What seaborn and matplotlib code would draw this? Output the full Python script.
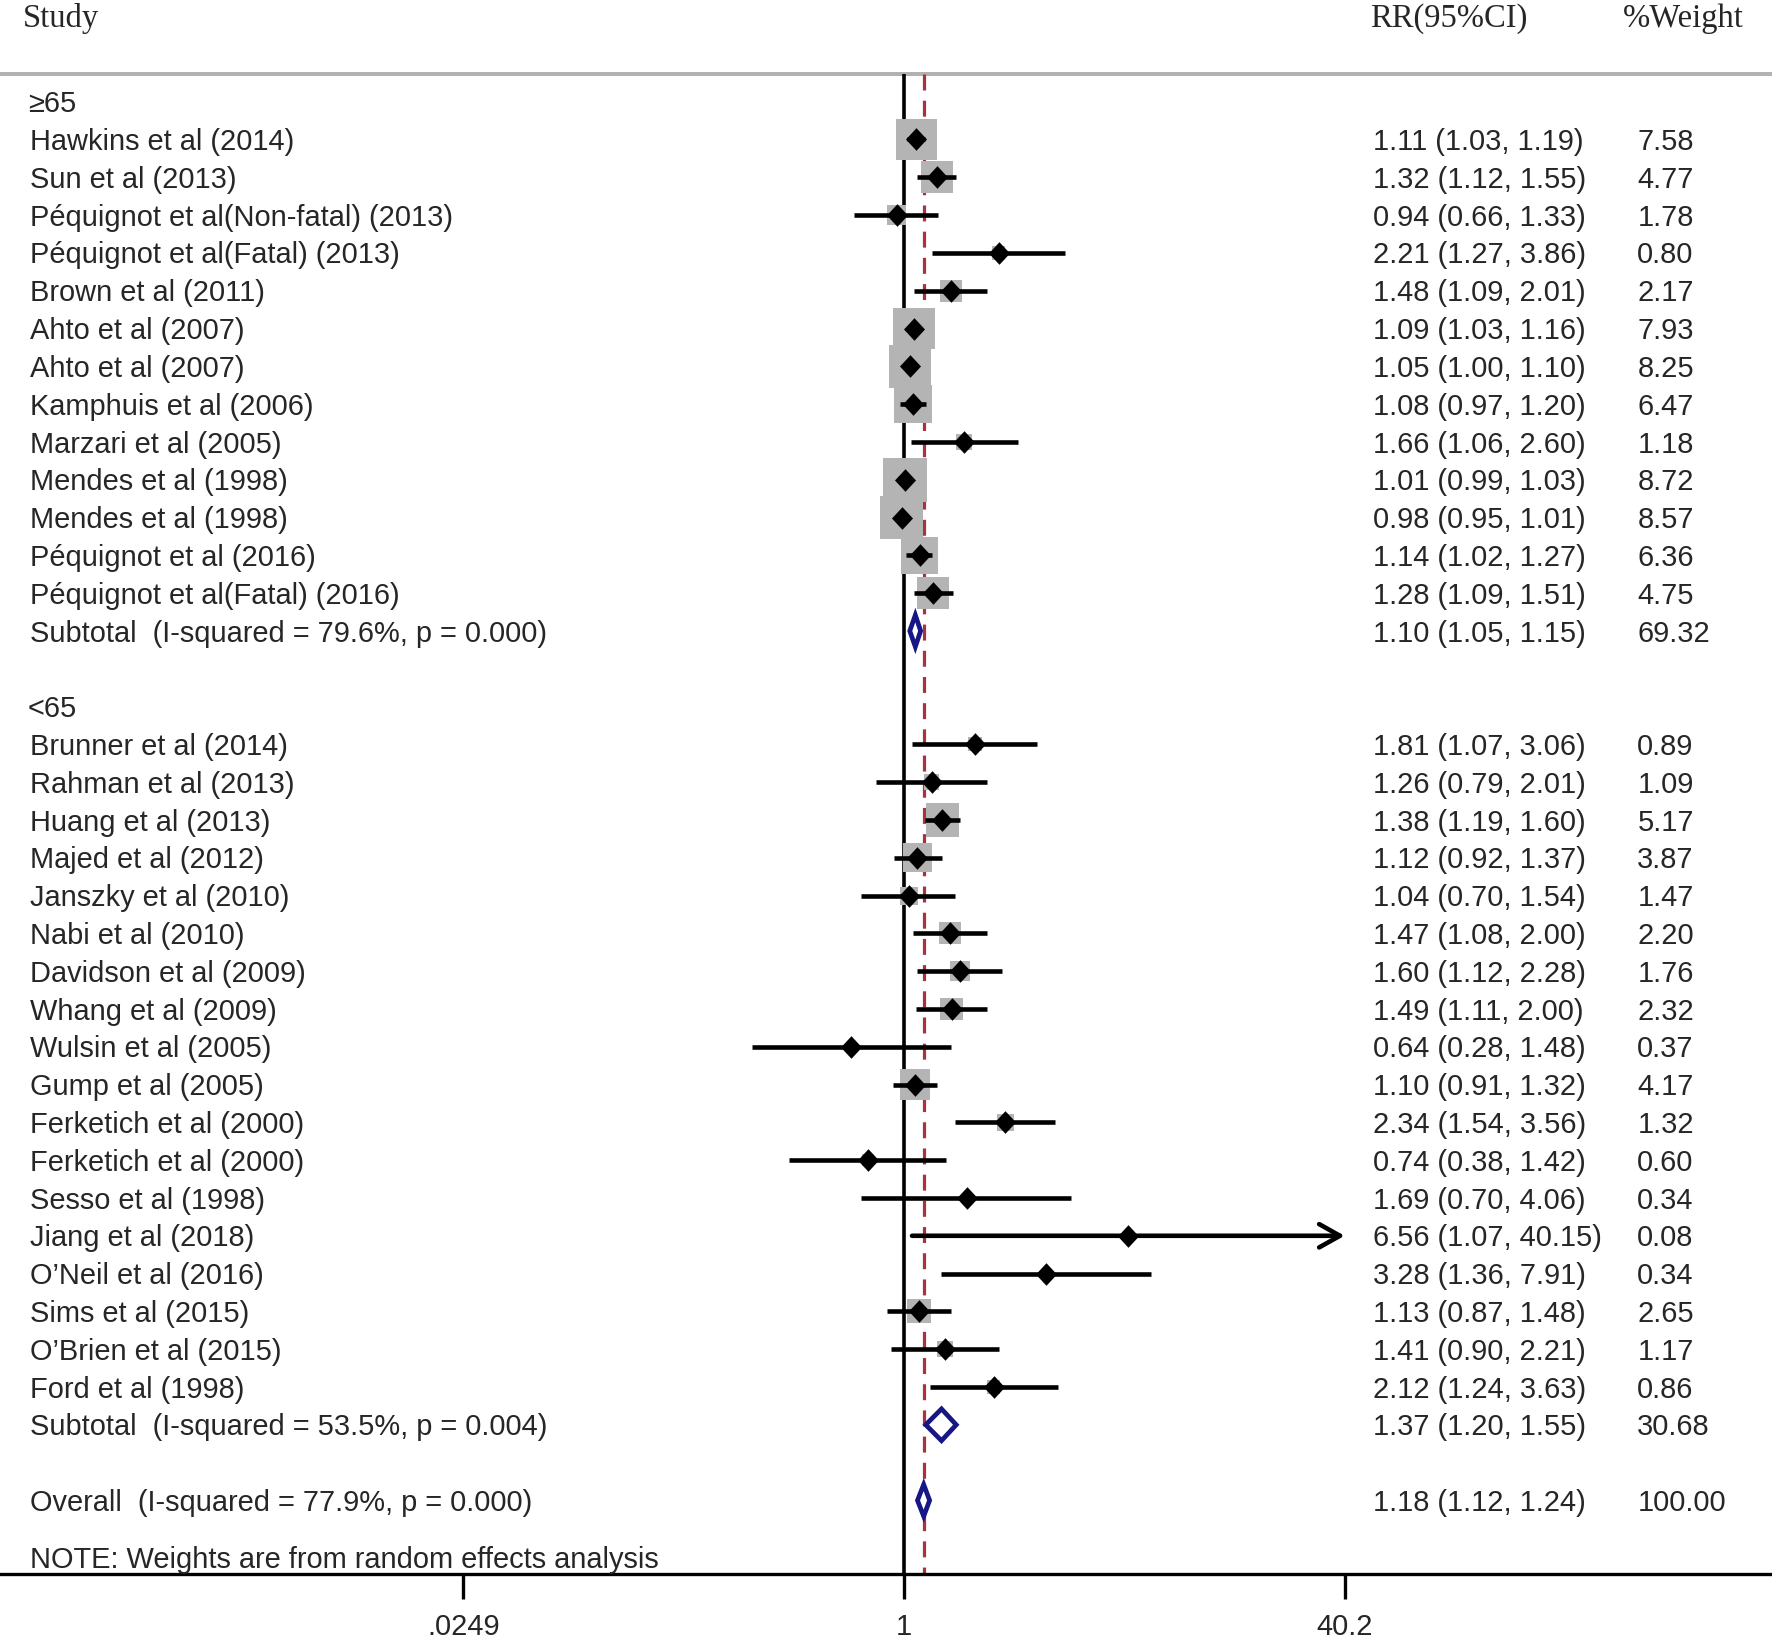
import numpy as np
import pandas as pd
import matplotlib
matplotlib.use("Agg")
import matplotlib.pyplot as plt
from matplotlib.ticker import NullLocator
import seaborn as sns

# ---- data ----
old_label = "≥65"
old_study = ["Hawkins et al (2014)", "Sun et al (2013)",
             "Péquignot et al(Non-fatal) (2013)", "Péquignot et al(Fatal) (2013)",
             "Brown et al (2011)", "Ahto et al (2007)", "Ahto et al (2007)",
             "Kamphuis et al (2006)", "Marzari et al (2005)", "Mendes et al (1998)",
             "Mendes et al (1998)", "Péquignot et al (2016)",
             "Péquignot et al(Fatal) (2016)"]
old_rr = [1.11, 1.32, 0.94, 2.21, 1.48, 1.09, 1.05, 1.08, 1.66, 1.01, 0.98, 1.14, 1.28]
old_lo = [1.03, 1.12, 0.66, 1.27, 1.09, 1.03, 1.00, 0.97, 1.06, 0.99, 0.95, 1.02, 1.09]
old_hi = [1.19, 1.55, 1.33, 3.86, 2.01, 1.16, 1.10, 1.20, 2.60, 1.03, 1.01, 1.27, 1.51]
old_wt = [7.58, 4.77, 1.78, 0.80, 2.17, 7.93, 8.25, 6.47, 1.18, 8.72, 8.57, 6.36, 4.75]
old_sub = [1.10, 1.05, 1.15, 69.32]
old_het = "Subtotal  (I-squared = 79.6%, p = 0.000)"

young_label = "<65"
young_study = ["Brunner et al (2014)", "Rahman et al (2013)", "Huang et al (2013)",
               "Majed et al (2012)", "Janszky et al (2010)", "Nabi et al (2010)",
               "Davidson et al (2009)", "Whang et al (2009)", "Wulsin et al (2005)",
               "Gump et al (2005)", "Ferketich et al (2000)", "Ferketich et al (2000)",
               "Sesso et al (1998)", "Jiang et al (2018)", "O\u2019Neil et al (2016)",
               "Sims et al (2015)", "O\u2019Brien et al (2015)", "Ford et al (1998)"]
young_rr = [1.81, 1.26, 1.38, 1.12, 1.04, 1.47, 1.60, 1.49, 0.64, 1.10, 2.34, 0.74,
            1.69, 6.56, 3.28, 1.13, 1.41, 2.12]
young_lo = [1.07, 0.79, 1.19, 0.92, 0.70, 1.08, 1.12, 1.11, 0.28, 0.91, 1.54, 0.38,
            0.70, 1.07, 1.36, 0.87, 0.90, 1.24]
young_hi = [3.06, 2.01, 1.60, 1.37, 1.54, 2.00, 2.28, 2.00, 1.48, 1.32, 3.56, 1.42,
            4.06, 40.15, 7.91, 1.48, 2.21, 3.63]
young_wt = [0.89, 1.09, 5.17, 3.87, 1.47, 2.20, 1.76, 2.32, 0.37, 4.17, 1.32, 0.60,
            0.34, 0.08, 0.34, 2.65, 1.17, 0.86]
young_sub = [1.37, 1.20, 1.55, 30.68]
young_het = "Subtotal  (I-squared = 53.5%, p = 0.004)"

overall = [1.18, 1.12, 1.24, 100.00]
overall_het = "Overall  (I-squared = 77.9%, p = 0.000)"
note = "NOTE: Weights are from random effects analysis"

tick_vals = [0.0249, 1, 40.2]
tick_text = [".0249", "1", "40.2"]

# ---- row layout (one row per line of the plot) ----
rows = []
r = 0
groups = [(old_label, old_study, old_rr, old_lo, old_hi, old_wt, old_sub, old_het),
          (young_label, young_study, young_rr, young_lo, young_hi, young_wt, young_sub, young_het)]
summaries = []
headers = []
for label, st, rr, lo, hi, wt, sub, het in groups:
    headers.append((label, r))
    r += 1
    for i in range(len(st)):
        rows.append(dict(study=st[i], rr=rr[i], lo=lo[i], hi=hi[i], wt=wt[i], row=r))
        r += 1
    summaries.append((het, sub, r))
    r += 2
summaries.append((overall_het, overall, r))
df = pd.DataFrame(rows)

sns.set_theme(style="white")
plt.rcParams["font.family"] = ["Liberation Sans", "DejaVu Sans"]
fs = 20.9

fig = plt.figure(figsize=(17.72, 16.38), dpi=100)
ax = fig.add_axes([0, 0, 1, 1])
ax.set_xscale("log")
ax.set_xlim(np.exp(-7.577), np.exp(7.276))
y_bottom = r + 1.95
ax.set_ylim(40.64, -2.69)

top_line = -0.72
xmax_tick = tick_vals[-1]

# reference lines
ax.axhline(top_line, color="#b2b2b2", lw=2.9, zorder=1)
ax.vlines(1, top_line, y_bottom, color="black", lw=2.6, zorder=1)
ax.vlines(overall[0], top_line, y_bottom, color="#a8323f", lw=2.3,
          linestyles=(0, (5, 3.2)), zorder=1)

# weight boxes
wmin, wmax = df["wt"].min(), df["wt"].max()
sns.scatterplot(data=df, x="rr", y="row", size="wt", sizes=(113 * wmin, 113 * wmax),
                size_norm=(wmin, wmax), marker="s", color="#b4b4b4", linewidth=0,
                legend=False, ax=ax, zorder=2)

# confidence intervals
clip = df["hi"] >= xmax_tick * 0.99
ax.hlines(df.loc[~clip, "row"], df.loc[~clip, "lo"], df.loc[~clip, "hi"],
          color="black", lw=3.3, zorder=3)
for _, d in df[clip].iterrows():
    ax.annotate("", xy=(xmax_tick, d["row"]), xytext=(d["lo"], d["row"]),
                arrowprops=dict(arrowstyle="->,head_length=0.75,head_width=0.42",
                                mutation_scale=20, lw=3.3, color="black",
                                shrinkA=0, shrinkB=0), zorder=3)

# point estimates
diamond = [(0, 1), (0.93, 0), (0, -1), (-0.93, 0), (0, 1)]
sns.scatterplot(data=df, x="rr", y="row", marker=diamond, s=265, color="black",
                linewidth=0, ax=ax, zorder=4, legend=False)

# pooled diamonds
for het, (est, lo, hi, w), yr in summaries:
    h = 0.42
    ax.fill([lo, est, hi, est, lo], [yr, yr - h, yr, yr + h, yr],
            facecolor="white", edgecolor="#161684", lw=3.4, zorder=5)

# text columns
tr = ax.get_yaxis_transform()
off = 0.28
x_study, x_rr, x_wt = 0.0172, 0.775, 0.924
for label, yr in headers:
    ax.text(0.0158, yr + off, label, transform=tr, fontsize=fs, va="baseline")
for _, d in df.iterrows():
    yy = d["row"] + off
    ax.text(x_study, yy, d["study"], transform=tr, fontsize=fs, va="baseline")
    ax.text(x_rr, yy, f"{d['rr']:.2f} ({d['lo']:.2f}, {d['hi']:.2f})",
            transform=tr, fontsize=fs, va="baseline")
    ax.text(x_wt, yy, f"{d['wt']:.2f}", transform=tr, fontsize=fs, va="baseline")
for het, (est, lo, hi, w), yr in summaries:
    ax.text(x_study, yr + off, het, transform=tr, fontsize=fs, va="baseline")
    ax.text(x_rr, yr + off, f"{est:.2f} ({lo:.2f}, {hi:.2f})", transform=tr,
            fontsize=fs, va="baseline")
    ax.text(x_wt, yr + off, f"{w:.2f}", transform=tr, fontsize=fs, va="baseline")
ax.text(x_study, r + 1.5 + off, note, transform=tr, fontsize=fs, va="baseline")

serif = ["Liberation Serif", "DejaVu Serif"]
ax.text(0.0128, -1.97, "Study", transform=tr, fontsize=23.5, family=serif, va="baseline")
ax.text(0.773, -1.97, "RR(95%CI)", transform=tr, fontsize=23.5, family=serif, va="baseline")
ax.text(0.916, -1.97, "%Weight", transform=tr, fontsize=23.5, family=serif, va="baseline")

# x axis: spine at the bottom row, tick marks hanging below it
for s in ["left", "right", "top"]:
    ax.spines[s].set_visible(False)
ax.spines["bottom"].set_position(("data", y_bottom))
ax.spines["bottom"].set_linewidth(2.4)
ax.spines["bottom"].set_color("black")
ax.vlines(tick_vals, y_bottom, y_bottom + 0.66, color="black", lw=2.4, zorder=1)
ax.set_xticks(tick_vals)
ax.set_xticklabels(tick_text)
ax.xaxis.set_minor_locator(NullLocator())
ax.tick_params(axis="x", bottom=True, length=0, labelsize=fs, pad=28)
ax.set_yticks([])
ax.set_xlabel("")
ax.set_ylabel("")

fig.savefig("out.png", dpi=100, facecolor="white")
